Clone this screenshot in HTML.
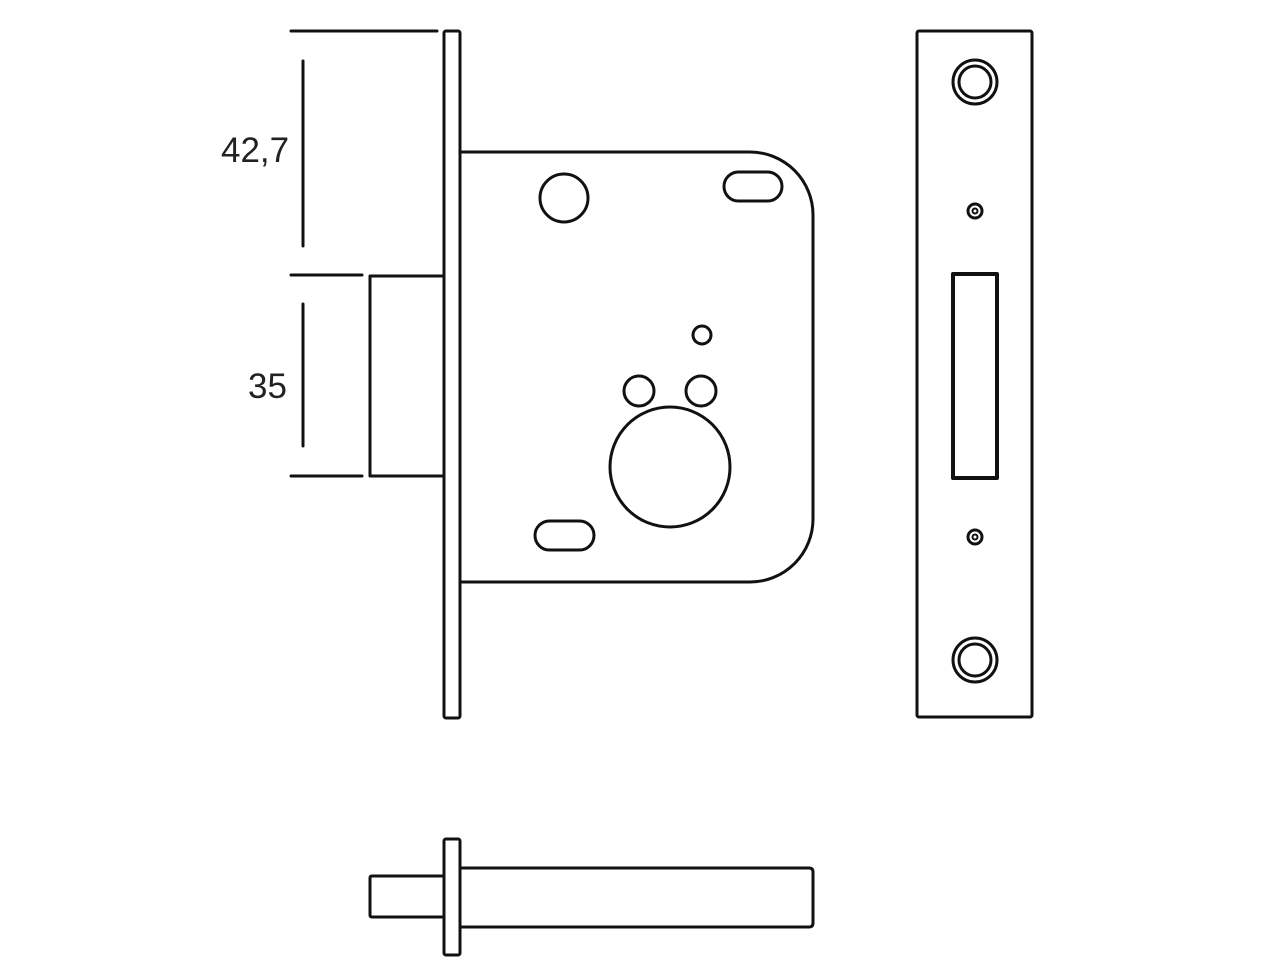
<!DOCTYPE html>
<html><head><style>html,body{margin:0;padding:0;background:#fff}svg{display:block}</style></head>
<body>
<svg width="1280" height="960" viewBox="0 0 1280 960" xmlns="http://www.w3.org/2000/svg">
<g fill="none" stroke="#111" stroke-width="3" stroke-linecap="round" stroke-linejoin="round">
<!-- dimension lines -->
<line x1="291" y1="31" x2="437" y2="31"/>
<line x1="303" y1="61" x2="303" y2="246"/>
<line x1="291" y1="275" x2="362" y2="275"/>
<line x1="303" y1="304" x2="303" y2="446"/>
<line x1="291" y1="476" x2="362" y2="476"/>
<!-- faceplate -->
<rect x="444" y="31" width="16" height="687" rx="2"/>
<!-- bolt -->
<polyline points="444,276 370,276 370,476 444,476"/>
<!-- body -->
<path d="M460,152 L750,152 A63,63 0 0 1 813,215 L813,519 A63,63 0 0 1 750,582 L460,582"/>
<circle cx="564" cy="198" r="24"/>
<rect x="724" y="172" width="58" height="29" rx="14.5"/>
<rect x="535" y="521" width="59" height="29" rx="14.5"/>
<circle cx="702" cy="335" r="9"/>
<circle cx="639" cy="391" r="15"/>
<circle cx="701" cy="391" r="15"/>
<circle cx="670" cy="467" r="60"/>
<!-- strike plate -->
<rect x="917" y="31" width="115" height="686" rx="2"/>
<circle cx="975" cy="82" r="22"/>
<circle cx="975" cy="82" r="16"/>
<circle cx="975" cy="660" r="22"/>
<circle cx="975" cy="660" r="16"/>
<circle cx="975" cy="211" r="7"/>
<circle cx="975" cy="211" r="2.5" stroke-width="2"/>
<circle cx="975" cy="537" r="7"/>
<circle cx="975" cy="537" r="2.5" stroke-width="2"/>
<rect x="953" y="274" width="44" height="204" stroke-width="4"/>
<!-- spindle -->
<rect x="444" y="839" width="16" height="116" rx="2"/>
<path d="M460,868 L809,868 Q813,868 813,872 L813,923 Q813,927 809,927 L460,927"/>
<path d="M444,876 L372,876 Q370,876 370,878 L370,915 Q370,917 372,917 L444,917"/>
</g>
<g font-family="Liberation Sans, sans-serif" font-size="35" fill="#222">
<text x="221" y="162">42,7</text>
<text x="248" y="398">35</text>
</g>
</svg>
</body></html>
